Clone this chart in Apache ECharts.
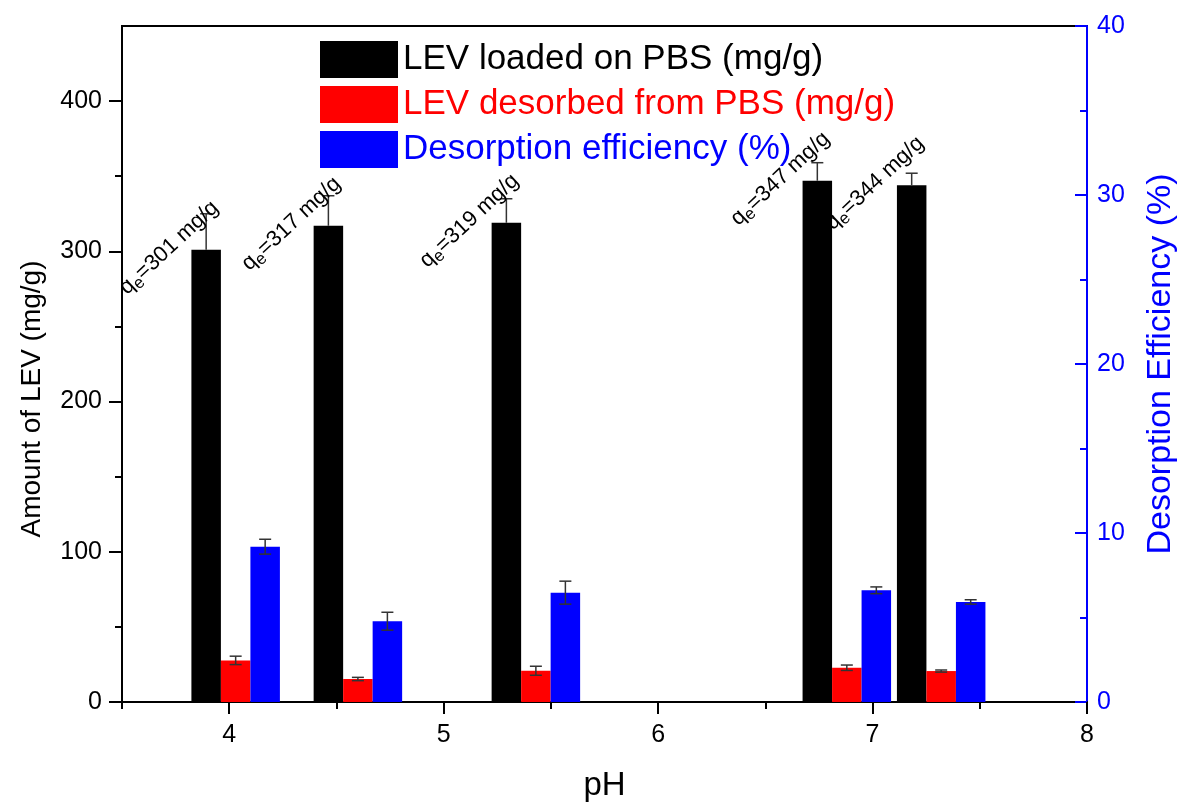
<!DOCTYPE html>
<html><head><meta charset="utf-8">
<script src="https://cdn.jsdelivr.net/npm/echarts@6/dist/echarts.min.js"></script>
<style>html,body{margin:0;padding:0;background:#fff}#c{width:1186px;height:807px}</style>
</head><body><div id="c"></div>
<script>
const pH = [4.03, 4.60, 5.43, 6.88, 7.32];
const loaded = [301, 317, 319, 347, 344];
const loadedErr = [24, 20, 16, 12, 8];
const desorbed = [27.7, 15.3, 20.8, 22.8, 20.6];
const desorbedErr = [2.8, 1.1, 3.0, 1.8, 0.7];
const efficiency = [9.19, 4.78, 6.47, 6.61, 5.92];
const efficiencyErr = [0.44, 0.53, 0.68, 0.20, 0.13];
const xTicks = [4, 5, 6, 7, 8];
const xMinor = [3.5, 4.5, 5.5, 6.5, 7.5];
const yLeftTicks = [0, 100, 200, 300, 400];
const yLeftMinor = [50, 150, 250, 350];
const yRightTicks = [0, 10, 20, 30, 40];
const yRightMinor = [5, 15, 25, 35];
const seriesNames = ['LEV loaded on PBS (mg/g)', 'LEV desorbed from PBS (mg/g)', 'Desorption efficiency (%)'];

const FONT = 'Liberation Sans, Arial, sans-serif';
const BW = 29.5;
const chart = echarts.init(document.getElementById('c'));

function errSeries(vals, errs, k, yIdx, upOnly) {
  return {
    type: 'custom', xAxisIndex: 0, yAxisIndex: yIdx, z: 5, silent: true,
    data: pH.map((x, i) => [x, vals[i], errs[i]]),
    renderItem: function (params, api) {
      const x = api.value(0), v = api.value(1), e = api.value(2);
      const t = api.coord([x, v + e]), m = api.coord([x, v]), b = api.coord([x, v - e]);
      const cx = t[0] + k * BW, h = 6;
      const st = { stroke: '#333', lineWidth: 1.5 };
      const kids = [
        { type: 'line', shape: { x1: cx, y1: t[1], x2: cx, y2: upOnly ? m[1] : b[1] }, style: st },
        { type: 'line', shape: { x1: cx - h, y1: t[1], x2: cx + h, y2: t[1] }, style: st }
      ];
      if (!upOnly) kids.push({ type: 'line', shape: { x1: cx - h, y1: b[1], x2: cx + h, y2: b[1] }, style: st });
      return { type: 'group', children: kids };
    }
  };
}

const option = {
  animation: false,
  backgroundColor: '#fff',
  textStyle: { fontFamily: FONT },
  grid: { left: 122, right: 96, top: 26, bottom: 103, show: true, borderColor: '#000', borderWidth: 2, backgroundColor: 'transparent' },
  legend: {
    orient: 'vertical', left: 320, top: 41, padding: 0, itemWidth: 78, itemHeight: 37, itemGap: 8, icon: 'rect',
    textStyle: { fontSize: 35, fontFamily: FONT, padding: [4, 0, 0, 0] },
    data: [
      { name: seriesNames[0], textStyle: { color: '#000' } },
      { name: seriesNames[1], textStyle: { color: '#ff0000' } },
      { name: seriesNames[2], textStyle: { color: '#0000ff' } }
    ]
  },
  xAxis: [
    {
      type: 'value', min: 3.5, max: 8, interval: 0.5, position: 'bottom',
      axisLine: { lineStyle: { color: '#000', width: 2 } },
      axisTick: { customValues: xTicks, length: 12, lineStyle: { color: '#000', width: 2 } },
      axisLabel: { customValues: xTicks, fontSize: 25, margin: 21, color: '#000', fontFamily: FONT },
      splitLine: { show: false },
      name: 'pH', nameLocation: 'middle', nameGap: 67,
      nameTextStyle: { fontSize: 33, color: '#000', fontFamily: FONT }
    },
    {
      type: 'value', min: 3.5, max: 8, interval: 0.5, position: 'bottom',
      axisLine: { show: false },
      axisTick: { customValues: xMinor, length: 7, lineStyle: { color: '#000', width: 2 } },
      axisLabel: { show: false }, splitLine: { show: false }
    }
  ],
  yAxis: [
    {
      type: 'value', min: 0, max: 450, interval: 50, position: 'left',
      axisLine: { show: true, lineStyle: { color: '#000', width: 2 } },
      axisTick: { show: true, customValues: yLeftTicks, length: 13, lineStyle: { color: '#000', width: 2 } },
      axisLabel: { customValues: yLeftTicks, fontSize: 25, margin: 20, color: '#000', fontFamily: FONT },
      splitLine: { show: false },
      name: 'Amount of LEV (mg/g)', nameLocation: 'middle', nameGap: 76,
      nameTextStyle: { fontSize: 28, color: '#000', fontFamily: FONT, padding: [0, 70, 0, 0] }
    },
    {
      type: 'value', min: 0, max: 40, interval: 5, position: 'right',
      axisLine: { show: true, lineStyle: { color: '#0000ff', width: 2 } },
      axisTick: { show: true, inside: true, customValues: yRightTicks, length: 12, lineStyle: { color: '#0000ff', width: 2 } },
      axisLabel: { customValues: yRightTicks, fontSize: 25, margin: 10, color: '#0000ff', fontFamily: FONT },
      splitLine: { show: false },
      name: 'Desorption Efficiency (%)', nameLocation: 'middle', nameGap: 57, nameRotate: 90,
      nameTextStyle: { fontSize: 34, color: '#0000ff', fontFamily: FONT }
    },
    {
      type: 'value', min: 0, max: 450, interval: 50, position: 'left',
      axisLine: { show: false },
      axisTick: { show: true, customValues: yLeftMinor, length: 7, lineStyle: { color: '#000', width: 2 } },
      axisLabel: { show: false }, splitLine: { show: false }
    },
    {
      type: 'value', min: 0, max: 40, interval: 5, position: 'right',
      axisLine: { show: false },
      axisTick: { show: true, inside: true, customValues: yRightMinor, length: 7, lineStyle: { color: '#0000ff', width: 2 } },
      axisLabel: { show: false }, splitLine: { show: false }
    }
  ],
  series: [
    { name: seriesNames[0], type: 'bar', xAxisIndex: 0, yAxisIndex: 0, barWidth: BW, barGap: '0%',
      itemStyle: { color: '#000000' }, data: pH.map((x, i) => [x, loaded[i]]) },
    { name: seriesNames[1], type: 'bar', xAxisIndex: 0, yAxisIndex: 0, barWidth: BW, barGap: '0%',
      itemStyle: { color: '#ff0000' }, data: pH.map((x, i) => [x, desorbed[i]]) },
    { name: seriesNames[2], type: 'bar', xAxisIndex: 0, yAxisIndex: 1, barWidth: BW, barGap: '0%',
      itemStyle: { color: '#0000ff' }, data: pH.map((x, i) => [x, efficiency[i]]) },
    errSeries(loaded, loadedErr, -1, 0, true),
    errSeries(desorbed, desorbedErr, 0, 0, false),
    errSeries(efficiency, efficiencyErr, 1, 1, false),
    {
      type: 'custom', xAxisIndex: 0, yAxisIndex: 0, z: 6, silent: true,
      data: pH.map((x, i) => [x, loaded[i]]),
      renderItem: function (params, api) {
        const p = api.coord([api.value(0), api.value(1)]);
        return {
          type: 'text', x: p[0] - BW - 37, y: p[1] - 2, rotation: 43 * Math.PI / 180,
          style: {
            text: 'q{s|e}=' + api.value(1) + ' mg/g',
            fontSize: 22, fontFamily: FONT, fill: '#000', align: 'center', verticalAlign: 'middle',
            rich: { s: { fontSize: 17, fontFamily: FONT, fill: '#000', padding: [11, 0, 0, 0] } }
          }
        };
      }
    }
  ]
};
chart.setOption(option);
</script>
</body></html>
